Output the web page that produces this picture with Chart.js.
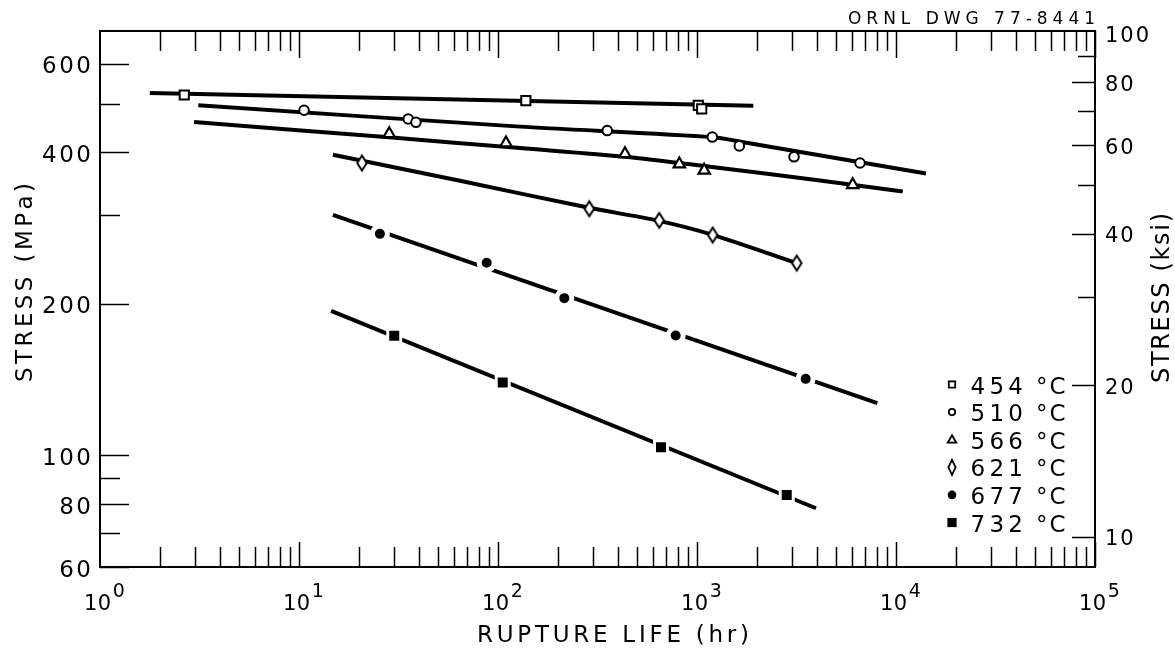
<!DOCTYPE html>
<html>
<head>
<meta charset="utf-8">
<title>Stress-rupture curves</title>
<script src="https://cdn.jsdelivr.net/npm/chart.js@4.4.1/dist/chart.umd.min.js"></script>
<style>
  html, body { margin: 0; padding: 0; background: #fff; }
  #wrap { width: 1175px; height: 649px; }
</style>
</head>
<body>
<div id="wrap"><canvas id="c" width="1175" height="649"></canvas></div>
<script>
// ---- Test temperatures (°C) ----
const temperatures = ['454', '510', '566', '621', '677', '732'];

// ---- Measured rupture points: life (hr) and stress (MPa) ----
const life454 = [2.65, 138, 1015, 1056];
const stress454 = [520, 507, 496, 488];
const life510 = [10.6, 35.4, 38.7, 354, 1194, 1632, 3073, 6594];
const stress510 = [485, 466, 459, 442, 429, 412, 392, 381];
const life566 = [28.4, 109.7, 434.7, 815, 1087, 6059];
const stress566 = [435.5, 417.4, 397.4, 379.1, 368.5, 344.8];
const life621 = [20.7, 287.6, 646, 1199, 3170];
const stress621 = [381, 309, 293, 274, 241];
const life677 = [25.5, 87.7, 215.4, 781.6, 3517];
const stress677 = [275.5, 241.3, 205.3, 173, 141.9];
const life732 = [30.1, 105.6, 659.4, 2824];
const stress732 = [172.8, 139.5, 103.8, 83.4];

// ---- Fitted curves through each temperature: life (hr) and stress (MPa) ----
const fitLife454 = [1.78, 1919];
const fitStress454 = [525, 495];
const fitLife510 = [3.12, 129, 1190, 1743, 14150];
const fitStress510 = [496, 450, 429, 418.5, 363];
const fitLife566 = [2.97, 28.3, 129, 434.7, 1162, 4151, 10810];
const fitStress566 = [459.4, 428.6, 407.9, 392, 374.5, 351.7, 334.4];
const fitLife621 = [14.8, 64.4, 286.7, 644, 1199, 3170];
const fitStress621 = [395.6, 351.2, 310.4, 292.4, 274.3, 241];
const fitLife677 = [14.8, 8054];
const fitStress677 = [300.6, 127];
const fitLife732 = [14.5, 3963];
const fitStress732 = [193.7, 78.5];

// ---- Axis ticks ----
const lifeDecades = [1, 10, 100, 1000, 10000, 100000];
const lifeDecadeExponents = ['0', '1', '2', '3', '4', '5'];
const mpaTicks = [60, 70, 80, 90, 100, 200, 300, 400, 500, 600];
const mpaLabels = [60, 80, 100, 200, 400, 600];
const ksiTicks = [10, 20, 30, 40, 50, 60, 70, 80, 90];
const ksiLabels = [10, 20, 40, 60, 80, 100];
const MPA_PER_KSI = 6.894757;
const STRESS_MIN = 60, STRESS_MAX = 697;

const FONT = '"DejaVu Sans", "Liberation Sans", sans-serif';
const INK = '#000';

const pairs = (xs, ys) => xs.map((v, i) => ({ x: v, y: ys[i] }));

// Tall narrow open diamond used for the 621 °C points
function diamondImage(w, h, lw) {
  const c = document.createElement('canvas');
  c.width = Math.ceil(w + lw * 2 + 2);
  c.height = Math.ceil(h + lw * 2 + 2);
  const g = c.getContext('2d');
  const cx = c.width / 2, cy = c.height / 2;
  g.beginPath();
  g.moveTo(cx, cy - h / 2);
  g.lineTo(cx + w / 2, cy);
  g.lineTo(cx, cy + h / 2);
  g.lineTo(cx - w / 2, cy);
  g.closePath();
  g.fillStyle = '#fff';
  g.fill();
  g.lineWidth = lw;
  g.strokeStyle = INK;
  g.stroke();
  return c;
}

const pointSets = [
  { life: life454, stress: stress454, style: 'rect', radius: 6.5, bg: '#fff', border: INK, bw: 2 },
  { life: life510, stress: stress510, style: 'circle', radius: 4.8, bg: '#fff', border: INK, bw: 2 },
  { life: life566, stress: stress566, style: 'triangle', radius: 6.6, bg: '#fff', border: INK, bw: 2.2 },
  { life: life621, stress: stress621, style: diamondImage(9.5, 15, 2), radius: 7, bg: '#fff', border: INK, bw: 2 },
  { life: life677, stress: stress677, style: 'circle', radius: 7.5, bg: INK, border: '#fff', bw: 5 },
  { life: life732, stress: stress732, style: 'rect', radius: 9.2, bg: INK, border: '#fff', bw: 3 }
];
const fitSets = [
  { life: fitLife454, stress: fitStress454, tension: 0 },
  { life: fitLife510, stress: fitStress510, tension: 0.25 },
  { life: fitLife566, stress: fitStress566, tension: 0.3 },
  { life: fitLife621, stress: fitStress621, tension: 0.3 },
  { life: fitLife677, stress: fitStress677, tension: 0 },
  { life: fitLife732, stress: fitStress732, tension: 0 }
];

// Points first so they are painted over the curves
const datasets = [];
pointSets.forEach((s, i) => datasets.push({
  label: temperatures[i] + ' °C',
  data: pairs(s.life, s.stress),
  showLine: false,
  pointStyle: s.style,
  pointRadius: s.radius,
  pointBackgroundColor: s.bg,
  pointBorderColor: s.border,
  pointBorderWidth: s.bw,
  pointHoverRadius: s.radius,
  clip: false
}));
fitSets.forEach((s, i) => datasets.push({
  label: 'fit ' + temperatures[i],
  data: pairs(s.life, s.stress),
  showLine: true,
  borderColor: INK,
  borderWidth: 4,
  tension: s.tension,
  pointRadius: 0,
  pointHoverRadius: 0,
  borderCapStyle: 'butt'
}));

// Legend marker drawing (small symbols beside the temperature list)
function legendMarker(ctx, i, x, y) {
  ctx.save();
  ctx.lineWidth = 1.8;
  ctx.strokeStyle = INK;
  ctx.fillStyle = '#fff';
  ctx.beginPath();
  if (i === 0) { ctx.rect(x - 3.2, y - 3.2, 6.4, 6.4); ctx.fill(); ctx.stroke(); }
  else if (i === 1) { ctx.arc(x, y, 3.2, 0, Math.PI * 2); ctx.fill(); ctx.stroke(); }
  else if (i === 2) { ctx.moveTo(x, y - 4.5); ctx.lineTo(x + 4.3, y + 3); ctx.lineTo(x - 4.3, y + 3); ctx.closePath(); ctx.fill(); ctx.stroke(); }
  else if (i === 3) { ctx.moveTo(x, y - 7.5); ctx.lineTo(x + 3.6, y); ctx.lineTo(x, y + 7.5); ctx.lineTo(x - 3.6, y); ctx.closePath(); ctx.fill(); ctx.stroke(); }
  else if (i === 4) { ctx.fillStyle = INK; ctx.arc(x, y, 4.3, 0, Math.PI * 2); ctx.fill(); }
  else { ctx.fillStyle = INK; ctx.rect(x - 4.6, y - 4.6, 9.2, 9.2); ctx.fill(); }
  ctx.restore();
}

// Text with widened letter spacing, fitted to a given width
function fittedText(ctx, text, x, y, width, align) {
  const chars = [...text];
  const widths = chars.map(ch => ctx.measureText(ch).width);
  const natural = widths.reduce((a, b) => a + b, 0);
  const gap = chars.length > 1 ? (width - natural) / (chars.length - 1) : 0;
  let cx = align === 'right' ? x - width : align === 'center' ? x - width / 2 : x;
  ctx.textAlign = 'left';
  chars.forEach((ch, k) => { ctx.fillText(ch, cx, y); cx += widths[k] + gap; });
}
function spacedText(ctx, text, x, y, gap, align) {
  const chars = [...text];
  const widths = chars.map(ch => ctx.measureText(ch).width);
  const total = widths.reduce((a, b) => a + b, 0) + gap * (chars.length - 1);
  let cx = align === 'right' ? x - total : align === 'center' ? x - total / 2 : x;
  ctx.textAlign = 'left';
  chars.forEach((ch, k) => { ctx.fillText(ch, cx, y); cx += widths[k] + gap; });
  return total;
}

const frameAndLabels = {
  id: 'frameAndLabels',
  afterDraw(chart) {
    const ctx = chart.ctx;
    const xs = chart.scales.x, ys = chart.scales.y, ks = chart.scales.y2;
    const { left, right, top, bottom } = chart.chartArea;
    ctx.save();
    ctx.strokeStyle = INK;
    ctx.fillStyle = INK;

    // plot frame
    ctx.lineWidth = 2;
    ctx.strokeRect(left, top, right - left, bottom - top);

    // rupture-life ticks, top and bottom, pointing inward
    ctx.lineWidth = 1.5;
    lifeDecades.slice(0, -1).forEach(d => {
      for (let m = 2; m <= 10; m++) {
        const px = Math.round(xs.getPixelForValue(m * d)) + 0.5;
        const major = m === 10;
        ctx.beginPath();
        ctx.moveTo(px, bottom);
        ctx.lineTo(px, bottom - (major ? 25 : 20));
        ctx.moveTo(px, top);
        ctx.lineTo(px, top + (major ? 27 : 20));
        ctx.stroke();
      }
    });

    // MPa ticks on the left
    mpaTicks.forEach(v => {
      const py = Math.round(ys.getPixelForValue(v)) + 0.5;
      const len = mpaLabels.includes(v) ? 29 : 20;
      ctx.beginPath();
      ctx.moveTo(left, py);
      ctx.lineTo(left + len, py);
      ctx.stroke();
    });
    // ksi ticks on the right
    ksiTicks.forEach(v => {
      const py = Math.round(ks.getPixelForValue(v)) + 0.5;
      const len = ksiLabels.includes(v) ? 23 : 17;
      ctx.beginPath();
      ctx.moveTo(right, py);
      ctx.lineTo(right - len, py);
      ctx.stroke();
    });

    ctx.textBaseline = 'alphabetic';

    // MPa labels
    ctx.font = '23px ' + FONT;
    mpaLabels.forEach(v => {
      const py = ys.getPixelForValue(v);
      spacedText(ctx, String(v), 91, py + 9.5, 2.5, 'right');
    });
    // ksi labels
    ctx.font = '21px ' + FONT;
    ksiLabels.forEach(v => {
      const py = ks.getPixelForValue(v);
      spacedText(ctx, String(v), 1105, py + 8.5, 2, 'left');
    });

    // rupture-life decade labels with exponents
    lifeDecades.forEach((d, i) => {
      const px = xs.getPixelForValue(d);
      ctx.font = '21px ' + FONT;
      const w = spacedText(ctx, '10', px - 16, 610, 0.5, 'left');
      ctx.font = '19px ' + FONT;
      ctx.textAlign = 'left';
      ctx.fillText(lifeDecadeExponents[i], px - 16 + w + 1.5, 597);
    });

    // axis titles
    ctx.font = '23px ' + FONT;
    fittedText(ctx, 'RUPTURE LIFE (hr)', 613, 642, 272, 'center');

    ctx.save();
    ctx.translate(31.5, 282.5);
    ctx.rotate(-Math.PI / 2);
    fittedText(ctx, 'STRESS (MPa)', 0, 0, 199, 'center');
    ctx.restore();

    ctx.save();
    ctx.font = '24px ' + FONT;
    ctx.translate(1169, 298);
    ctx.rotate(-Math.PI / 2);
    fittedText(ctx, 'STRESS (ksi)', 0, 0, 170, 'center');
    ctx.restore();

    // drawing number
    ctx.font = '17px ' + FONT;
    fittedText(ctx, 'ORNL DWG 77-8441', 1095, 24, 247, 'right');

    // temperature legend
    const rowY = [385, 412.6, 440.2, 467.8, 495.4, 523];
    ctx.font = '23px ' + FONT;
    temperatures.forEach((t, i) => {
      const y = rowY[i];
      legendMarker(ctx, i, 952, y - 0.5);
      fittedText(ctx, t, 970.5, y + 8.5, 52.5, 'left');
      spacedText(ctx, '°C', 1036, y + 8.5, 2, 'left');
    });

    ctx.restore();
  }
};

new Chart(document.getElementById('c'), {
  type: 'scatter',
  data: { datasets },
  options: {
    responsive: false,
    animation: false,
    events: [],
    devicePixelRatio: 1,
    layout: { padding: { left: 100, right: 80, top: 31, bottom: 82 } },
    plugins: { legend: { display: false }, tooltip: { enabled: false } },
    scales: {
      x: { type: 'logarithmic', min: 1, max: 100000, display: false },
      y: { type: 'logarithmic', min: STRESS_MIN, max: STRESS_MAX, display: false },
      y2: { type: 'logarithmic', position: 'right', min: STRESS_MIN / MPA_PER_KSI, max: STRESS_MAX / MPA_PER_KSI, display: false }
    }
  },
  plugins: [frameAndLabels]
});
</script>
</body>
</html>
